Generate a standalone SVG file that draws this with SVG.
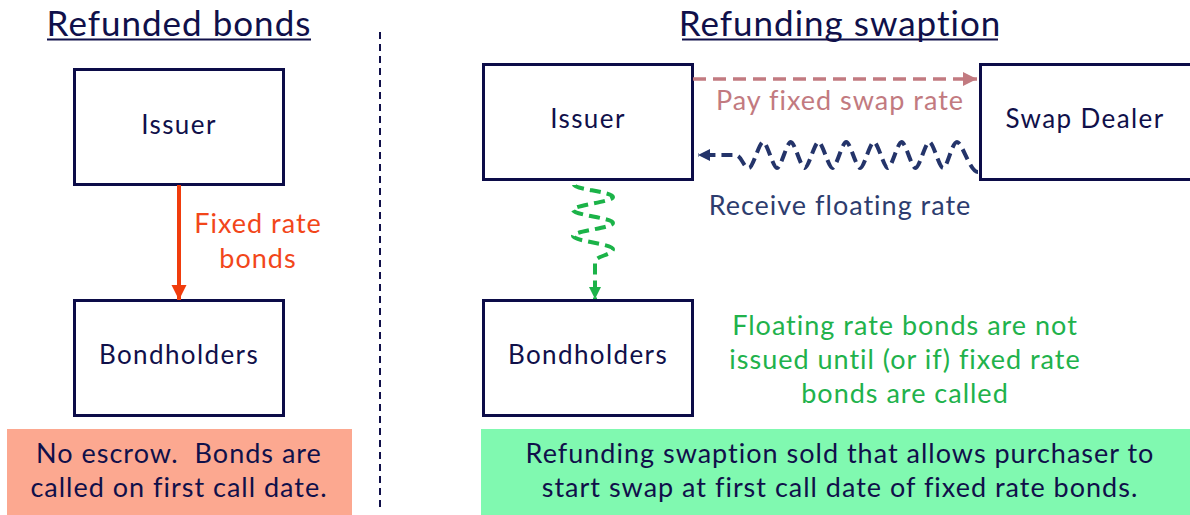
<svg xmlns="http://www.w3.org/2000/svg" width="1190" height="515" viewBox="0 0 1190 515">
<style>
text{font-family:Lato,"Noto Sans","Liberation Sans",sans-serif;letter-spacing:1px;text-anchor:middle;}
.box{fill:#fff;stroke:#0c0c48;stroke-width:3;}
.lbl{font-size:26px;fill:#10104a;letter-spacing:1.4px;}
.title{font-size:35px;fill:#10104a;}
.note{font-size:27px;fill:#10104a;}
.t27{font-size:27px;}
</style>
<defs>
<marker id="ahPink" markerUnits="userSpaceOnUse" markerWidth="16" markerHeight="16" refX="14" refY="8" orient="auto"><path d="M0,1 L14,8 L0,15 Z" fill="#c27a80"/></marker>
<marker id="ahBlue" markerUnits="userSpaceOnUse" markerWidth="14" markerHeight="14" refX="12" refY="7" orient="auto"><path d="M0,1 L12,7 L0,13 Z" fill="#24346a"/></marker>
<marker id="ahGreen" markerUnits="userSpaceOnUse" markerWidth="14" markerHeight="14" refX="12" refY="7" orient="auto"><path d="M0,1 L12,7 L0,13 Z" fill="#1bb348"/></marker>
<marker id="ahRed" markerUnits="userSpaceOnUse" markerWidth="16" markerHeight="16" refX="15" refY="8" orient="auto"><path d="M0,0.5 L15,8 L0,15.5 Z" fill="#f03c0c"/></marker>
</defs>

<g id="titles">
<text class="title" x="179" y="36">Refunded bonds</text>
<line x1="47" y1="39.5" x2="311" y2="39.5" stroke="#10104a" stroke-width="2"/>
<text class="title" x="840" y="36">Refunding swaption</text>
<line x1="682" y1="39.5" x2="998" y2="39.5" stroke="#10104a" stroke-width="2"/>
</g>

<line id="divider" x1="380" y1="32" x2="380" y2="512" stroke="#10104a" stroke-width="2" stroke-dasharray="7,5"/>

<g id="issuer-left"><rect class="box" x="74.5" y="69.5" width="209" height="115"/><text class="lbl" x="179" y="134">Issuer</text></g>
<g id="bondholders-left"><rect class="box" x="74.5" y="300.5" width="209" height="115"/><text class="lbl" x="179" y="364">Bondholders</text></g>
<g id="issuer-right"><rect class="box" x="483.5" y="64.5" width="209" height="115"/><text class="lbl" x="588" y="128">Issuer</text></g>
<g id="swap-dealer"><rect class="box" x="980.5" y="64.5" width="212" height="115"/><text class="lbl" x="1085" y="128">Swap Dealer</text></g>
<g id="bondholders-right"><rect class="box" x="483.5" y="300.5" width="209" height="115"/><text class="lbl" x="588" y="364">Bondholders</text></g>

<g id="note-left"><rect x="7" y="429" width="345" height="86" fill="#fca890"/>
<text class="note" x="179" y="463" xml:space="preserve">No escrow.  Bonds are</text>
<text class="note" x="179" y="497">called on first call date.</text></g>
<g id="note-right"><rect x="481" y="429" width="709" height="86" fill="#80f9b0"/>
<text class="note" x="840" y="463">Refunding swaption sold that allows purchaser to</text>
<text class="note" x="840" y="497">start swap at first call date of fixed rate bonds.</text></g>

<g id="connectors">
<line x1="179" y1="185" x2="179" y2="300" stroke="#f03c0c" stroke-width="4" marker-end="url(#ahRed)"/>
<line x1="693" y1="79" x2="977" y2="79" stroke="#c27a80" stroke-width="3.5" stroke-dasharray="13,7" marker-end="url(#ahPink)"/>
<path d="M978,172 C970,172 962,142 957,142 S947.2,168 943.2,168 S933.3,142 929.3,142 S919.5,168 915.5,168 S905.6,142 901.6,142 S891.8,168 887.8,168 S877.9,142 873.9,142 S864.1,168 860.1,168 S850.2,142 846.2,142 S836.4,168 832.4,168 S822.5,142 818.5,142 S808.7,168 804.7,168 S794.8,142 790.8,142 S781,168 777,168 S767.1,142 763.1,142 S753,168 749,168 C743,168 742,155 735,155 L698,155" fill="none" stroke="#24346a" stroke-width="4" stroke-dasharray="11,6" marker-end="url(#ahBlue)"/>
<path d="M574,185 C574,189 613,192 613,197 C613,202 573,205 573,210 C573,215 613,218 613,223 C613,228 573,231 573,236 C573,241 613,244 613,249 C613,255 595,256 595,262 L595,299" fill="none" stroke="#1bb348" stroke-width="4" stroke-dasharray="11,6" marker-end="url(#ahGreen)"/>
</g>

<g id="labels">
<text class="t27" x="258" y="233" fill="#f2461a">Fixed rate</text>
<text class="t27" x="258" y="268" fill="#f2461a">bonds</text>
<text class="t27" x="840" y="110" fill="#c27a80">Pay fixed swap rate</text>
<text class="t27" x="840" y="215" fill="#2d3c6e">Receive floating rate</text>
<text class="t27" x="905" y="335" fill="#21b24b">Floating rate bonds are not</text>
<text class="t27" x="905" y="369" fill="#21b24b">issued until (or if) fixed rate</text>
<text class="t27" x="905" y="403" fill="#21b24b">bonds are called</text>
</g>
</svg>
